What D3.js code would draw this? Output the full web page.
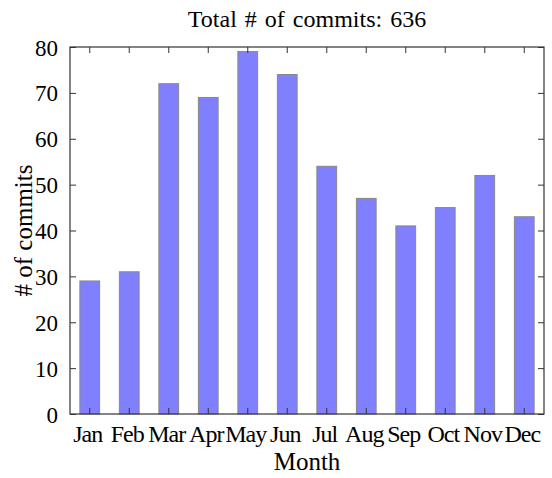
<!DOCTYPE html>
<html><head><meta charset="utf-8">
<script src="https://cdn.jsdelivr.net/npm/d3@7"></script>
<style>body{margin:0;background:#fff}text{font-family:"Liberation Serif","Times New Roman",serif;fill:#000}</style>
</head><body><svg id="c" width="552" height="478"></svg>
<script>
const months = ["Jan","Feb","Mar","Apr","May","Jun","Jul","Aug","Sep","Oct","Nov","Dec"];
const commits = [29,31,72,69,79,74,54,47,41,45,52,43];
const yTicks = [0,10,20,30,40,50,60,70,80];
const titleText = "Total # of commits: 636";

const svg = d3.select("#c");
const L=70, R=544, T=47, B=414;
const x = d3.scaleBand().domain(months).range([L,R]).paddingInner(0.5).paddingOuter(0.25);
const y = d3.scaleLinear().domain([0,80]).range([B,T]);

svg.append("g").selectAll("rect").data(commits).join("rect")
  .attr("x",(d,i)=>x(months[i])).attr("width",x.bandwidth())
  .attr("y",d=>y(d)).attr("height",d=>B-y(d))
  .attr("fill","#8080ff").attr("stroke","#888").attr("stroke-width",1);

const tl=6;
const gx=svg.append("g").attr("transform",`translate(0,${B})`)
  .call(d3.axisBottom(x).tickSize(-tl).tickPadding(11));
const gxt=svg.append("g").attr("transform",`translate(0,${T})`)
  .call(d3.axisTop(x).tickSize(-tl).tickFormat(""));
const gy=svg.append("g").attr("transform",`translate(${L},0)`)
  .call(d3.axisLeft(y).tickValues(yTicks).tickSize(-tl).tickPadding(12));
const gyr=svg.append("g").attr("transform",`translate(${R},0)`)
  .call(d3.axisRight(y).tickValues(yTicks).tickSize(-tl).tickFormat(""));
[gx,gxt,gy,gyr].forEach(g=>{g.select(".domain").remove();g.selectAll("line").attr("stroke","#333");});
gx.selectAll("text").style("font-size","24px").style("letter-spacing","-1px").attr("dx","-2").attr("fill","#000");
gy.selectAll("text").style("font-size","23px").attr("fill","#000").attr("dy","0.35em");

svg.append("rect").attr("x",L).attr("y",T).attr("width",R-L).attr("height",B-T)
  .attr("fill","none").attr("stroke","#333").attr("stroke-width",1.2);

svg.append("text").attr("x",(L+R)/2).attr("y",27).attr("text-anchor","middle").style("font-size","24px").style("word-spacing","2px").text(titleText);
svg.append("text").attr("x",(L+R)/2).attr("y",470).attr("text-anchor","middle").style("font-size","25px").text("Month");
svg.append("text").attr("transform",`translate(32,${(T+B)/2}) rotate(-90)`).attr("text-anchor","middle").style("font-size","25px").text("# of commits");
</script></body></html>
